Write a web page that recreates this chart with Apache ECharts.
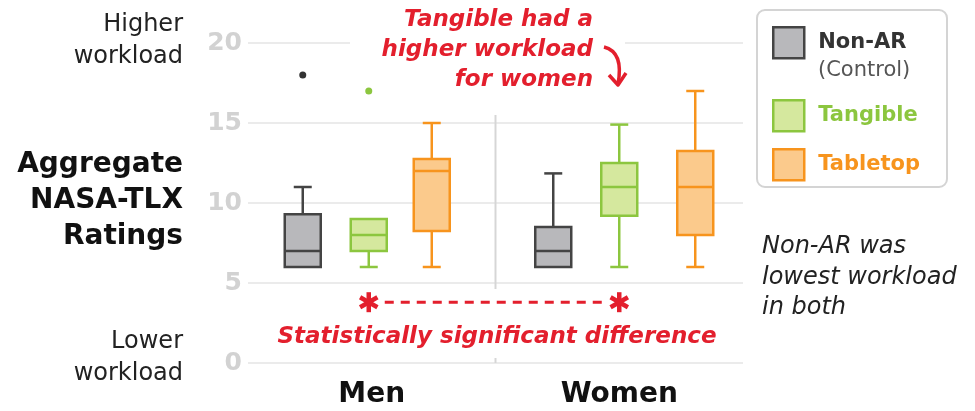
<!DOCTYPE html>
<html>
<head>
<meta charset="utf-8">
<script src="https://cdn.jsdelivr.net/npm/echarts@6/dist/echarts.min.js"></script>
<style>
  html, body { margin: 0; padding: 0; background: #fff; }
  #chart { width: 975px; height: 411px; }
</style>
</head>
<body>
<div id="chart"></div>
<script>
// Groups on the x axis and y-axis tick values
const groups = ['Men', 'Women'];
const yTicks = [0, 5, 10, 15, 20];

// Five-number summaries per group: [min, Q1, median, Q3, max]
const nonAR    = [[6, 6, 7, 9.3, 11],    [6, 6, 7, 8.5, 11.85]];
const tangible = [[6, 7, 8, 9, 9],       [6, 9.2, 11, 12.5, 14.9]];
const tabletop = [[6, 8.25, 12, 12.75, 15], [6, 8, 11, 13.25, 17]];

// Outlying ratings: [group, value]
const nonAROutliers    = [['Men', 18]];
const tangibleOutliers = [['Men', 17]];
const tabletopOutliers = [];

// ---- styling / layout ----
const FONT = 'DejaVu Sans';
const RED = '#e31f2d';
const BOX_W = 36, CAP_W = 18, LW = 2.5;

const SERIES = [
  { name: 'Non-AR',   stats: nonAR,    outliers: nonAROutliers,
    fill: '#b8b8bb', stroke: '#444444', dot: '#333333', text: '#333333', shift: [-69, -66] },
  { name: 'Tangible', stats: tangible, outliers: tangibleOutliers,
    fill: '#d5e89e', stroke: '#8cc63f', dot: '#8cc63f', text: '#8cc63f', shift: [-3, 0] },
  { name: 'Tabletop', stats: tabletop, outliers: tabletopOutliers,
    fill: '#fbca8c', stroke: '#f7941d', dot: '#f7941d', text: '#f7941d', shift: [60, 76] }
];

function boxRenderer(s) {
  return function (params, api) {
    const gi = api.value(0);
    const cx = api.coord([gi, 0])[0] + s.shift[gi];
    const Y = v => api.coord([gi, v])[1];
    const lo = api.value(1), q1 = api.value(2), md = api.value(3), q3 = api.value(4), hi = api.value(5);
    const hw = BOX_W / 2, cw = CAP_W / 2;
    const line = (x1, y1, x2, y2) => ({
      type: 'line', shape: { x1, y1, x2, y2 },
      style: { stroke: s.stroke, lineWidth: LW, lineCap: 'butt' }
    });
    const children = [];
    if (hi > q3) children.push(line(cx, Y(hi), cx, Y(q3)), line(cx - cw, Y(hi), cx + cw, Y(hi)));
    if (lo < q1) children.push(line(cx, Y(q1), cx, Y(lo)), line(cx - cw, Y(lo), cx + cw, Y(lo)));
    children.push({
      type: 'rect',
      shape: { x: cx - hw, y: Y(q3), width: BOX_W, height: Y(q1) - Y(q3) },
      style: { fill: s.fill, stroke: s.stroke, lineWidth: LW }
    });
    children.push(line(cx - hw, Y(md), cx + hw, Y(md)));
    return { type: 'group', children };
  };
}

function outlierRenderer(s) {
  return function (params, api) {
    const gi = api.value(0);
    const p = api.coord([gi, api.value(1)]);
    return { type: 'circle', shape: { cx: p[0] + s.shift[gi], cy: p[1], r: 3.5 }, style: { fill: s.dot } };
  };
}

const series = [];
SERIES.forEach(s => {
  series.push({
    type: 'custom', name: s.name,
    itemStyle: { color: s.fill, borderColor: s.stroke, borderWidth: LW },
    renderItem: boxRenderer(s),
    encode: { x: 0, y: [1, 2, 3, 4, 5] },
    data: s.stats.map((d, i) => [i].concat(d)),
    z: 3
  });
  series.push({
    type: 'custom', name: s.name,
    itemStyle: { color: s.fill, borderColor: s.stroke, borderWidth: LW },
    renderItem: outlierRenderer(s),
    encode: { x: 0, y: 1 },
    data: s.outliers.map(o => [groups.indexOf(o[0]), o[1]]),
    z: 3
  });
});

const legendTops = [26, 99, 148];
const legends = SERIES.map((s, i) => ({
  left: 772, top: legendTops[i], padding: 0, orient: 'vertical',
  icon: 'rect', itemWidth: 31, itemHeight: 31, selectedMode: false,
  data: [{
    name: s.name,
    itemStyle: { color: s.fill, borderColor: s.stroke, borderWidth: LW },
    textStyle: { color: s.text, fontFamily: FONT, fontWeight: 'bold', fontSize: 21, padding: [0, 0, 0, 9] }
  }]
}));

const chart = echarts.init(document.getElementById('chart'), null, { renderer: 'canvas' });
chart.setOption({
  animation: false,
  backgroundColor: '#ffffff',
  grid: { left: 248, right: 232, top: 43, bottom: 48, containLabel: false },
  legend: legends,
  xAxis: {
    type: 'category', data: groups, boundaryGap: true,
    axisLine: { show: false }, axisTick: { show: false }, splitLine: { show: false },
    axisLabel: { margin: 18, color: '#111', fontFamily: FONT, fontWeight: 'bold', fontSize: 28 }
  },
  yAxis: {
    type: 'value', min: yTicks[0], max: yTicks[yTicks.length - 1], interval: yTicks[1] - yTicks[0],
    axisLine: { show: false }, axisTick: { show: false },
    splitLine: { show: true, lineStyle: { color: '#e4e4e4', width: 1.5 } },
    axisLabel: { margin: 6, color: '#d2d2d2', fontFamily: FONT, fontWeight: 'bold', fontSize: 25 }
  },
  series
});

// ---- annotations, placed from the axes ----
const px = (g, v) => chart.convertToPixel({ gridIndex: 0 }, [g, v]);
const menC = px('Men', 0)[0], womenC = px('Women', 0)[0];
const sepX = (menC + womenC) / 2;
const sepTop = px('Men', 15.5)[1], sepBottom = px('Men', 0)[1];
const starY = px('Men', 3.8)[1];
const tang = SERIES[1];
const starL = menC + tang.shift[0], starR = womenC + tang.shift[1];

// six-armed asterisk built from three crossing strokes
function starArms(cx, cy, id) {
  const r = 10, arms = [];
  for (let k = 0; k < 3; k++) {
    const a = Math.PI / 2 + k * Math.PI / 3;
    arms.push({
      type: 'line', id: id + k, z: 7,
      shape: { x1: cx - r * Math.cos(a), y1: cy - r * Math.sin(a), x2: cx + r * Math.cos(a), y2: cy + r * Math.sin(a) },
      style: { stroke: RED, lineWidth: 4.5 }
    });
  }
  return arms;
}

const txt = (id, x, y, text, opt) => ({
  type: 'text', id, x, y, z: 6,
  style: Object.assign({ text, fontFamily: FONT, fill: '#222', fontSize: 24, align: 'right', verticalAlign: 'top' }, opt)
});

chart.setOption({
  graphic: [
    // divider between groups
    { type: 'line', id: 'sep', z: 1, shape: { x1: sepX, y1: sepTop, x2: sepX, y2: sepBottom }, style: { stroke: '#d6d6d6', lineWidth: 2 } },
    // clear backgrounds behind annotations
    { type: 'rect', id: 'bgTop', z: 4, shape: { x: 350, y: 34, width: 275, height: 19 }, style: { fill: '#fff' } },
    { type: 'rect', id: 'bgBottom', z: 4, shape: { x: 272, y: 289, width: 455, height: 69 }, style: { fill: '#fff' } },
    // legend frame
    { type: 'rect', id: 'legendBox', z: 1, shape: { x: 757, y: 10, width: 190, height: 177, r: 8 }, style: { fill: '#fff', stroke: '#d4d4d4', lineWidth: 2 } },
    txt('control', 818, 60, '(Control)', { align: 'left', fontSize: 21, fill: '#555' }),

    // left axis descriptions
    txt('hi', 183, 9, 'Higher\nworkload', { lineHeight: 32 }),
    txt('title', 183, 147, 'Aggregate\nNASA-TLX\nRatings', { fontWeight: 'bold', fontSize: 28, lineHeight: 36, fill: '#111' }),
    txt('lo', 183, 326, 'Lower\nworkload', { lineHeight: 32 }),

    // callouts
    txt('callTop', 593, 5, 'Tangible had a\nhigher workload\nfor women',
      { fontWeight: 'bold', fontStyle: 'italic', fontSize: 23, lineHeight: 30, fill: RED }),
    { type: 'bezierCurve', id: 'arrowCurve', z: 6,
      shape: { x1: 604, y1: 47, cpx1: 624, cpy1: 52, x2: 618, y2: 84 },
      style: { stroke: RED, lineWidth: 3.5, fill: 'none' } },
    { type: 'polyline', id: 'arrowHead', z: 6,
      shape: { points: [[609, 75], [618, 85], [626, 73]] },
      style: { stroke: RED, lineWidth: 3.5, fill: 'none', lineJoin: 'round' } },

    txt('note', 762, 232, 'Non-AR was\nlowest workload\nin both',
      { align: 'left', fontStyle: 'italic', fontSize: 24, lineHeight: 30.5 }),

    // significance marker between the two Tangible groups
    ...starArms(starL, starY, 'starL'),
    ...starArms(starR, starY, 'starR'),
    { type: 'line', id: 'sigDash', z: 6,
      shape: { x1: starL + 16, y1: starY, x2: starR - 16, y2: starY },
      style: { stroke: RED, lineWidth: 3, lineDash: [9, 7] } },
    { type: 'text', id: 'sigText', z: 6, x: (starL + starR) / 2 + 3, y: 337,
      style: { text: 'Statistically significant difference', fontFamily: FONT, fontWeight: 'bold', fontStyle: 'italic',
               fontSize: 23, fill: RED, align: 'center', verticalAlign: 'middle' } }
  ]
});
</script>
</body>
</html>
